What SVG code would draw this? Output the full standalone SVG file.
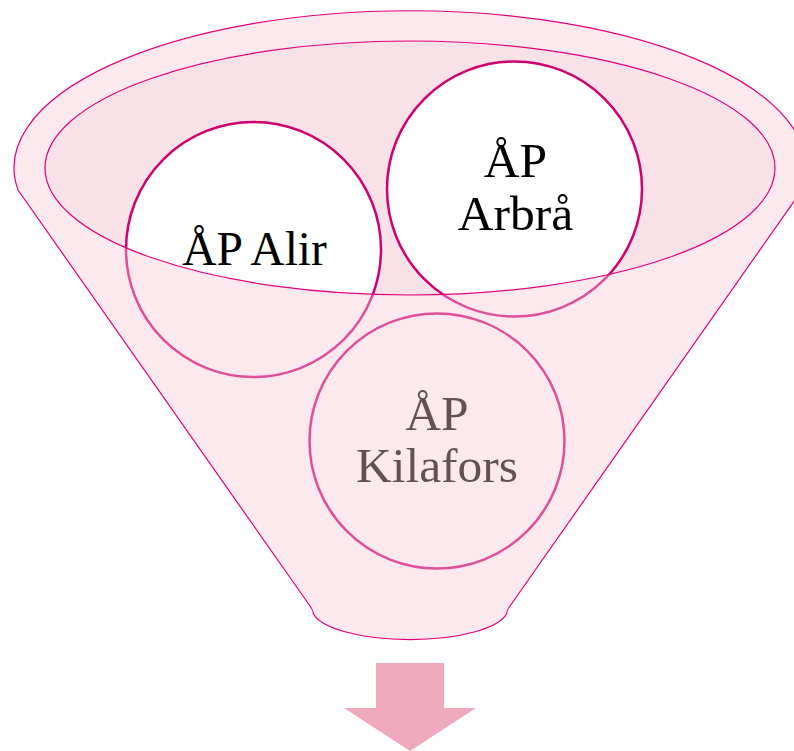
<svg xmlns="http://www.w3.org/2000/svg" width="794" height="751" viewBox="0 0 794 751">
<style>
.rim{fill:#f8e2e8;stroke:none}
.node{fill:#ffffff;stroke:#d0006f;stroke-width:2.5}
.lbl{font-family:"Liberation Serif","Times New Roman",serif;fill:#000000;text-anchor:middle}
.front{fill:#f5c8d4;fill-opacity:0.4;fill-rule:evenodd;stroke:none}
.edge{fill:none;stroke:#e2007a;stroke-width:1.2}
</style>
<rect width="794" height="751" fill="#ffffff"/>
<g id="funnel-back">
<ellipse class="rim" cx="410" cy="168" rx="365" ry="127"/>
</g>
<g id="node-alir">
<circle class="node" cx="253.5" cy="249.5" r="127.5"/>
<text class="lbl" x="254.5" y="265" font-size="47.5">ÅP Alir</text>
</g>
<g id="node-arbra">
<circle class="node" cx="514.5" cy="189" r="127.5"/>
<text class="lbl" font-size="49.5"><tspan x="515.5" y="177">ÅP</tspan><tspan x="515.5" y="230">Arbrå</tspan></text>
</g>
<g id="node-kilafors">
<circle class="node" cx="437" cy="441" r="127.5"/>
<text class="lbl" font-size="49.5"><tspan x="437" y="430">ÅP</tspan><tspan x="437" y="482">Kilafors</tspan></text>
</g>
<g id="funnel-front">
<path class="front" d="M18,190 A396,157 0 1 1 802,190 L510,606 Q506,612 507,613 A98,31 0 0 1 313,613 Q314,612 310,606 Z M45,168 A365,127 0 1 0 775,168 A365,127 0 1 0 45,168 Z"/>
<path class="edge" d="M18,190 A396,157 0 1 1 802,190 L510,606 Q506,612 507,613 A98,31 0 0 1 313,613 Q314,612 310,606 Z"/>
<ellipse class="edge" cx="410" cy="168" rx="365" ry="127"/>
</g>
<g id="connectors">
<path id="arrow" d="M376,663 L444,663 L444,708 L476,708 L410,751 L344,708 L376,708 Z" fill="#efa9bc"/>
</g>
</svg>
